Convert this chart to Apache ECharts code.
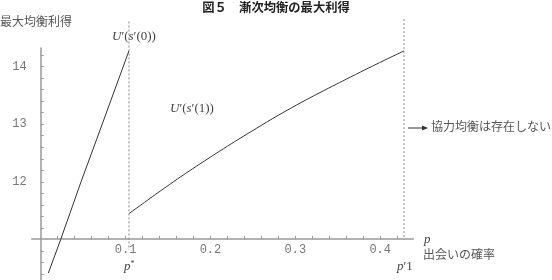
<!DOCTYPE html>
<html><head><meta charset="utf-8">
<script src="https://cdn.jsdelivr.net/npm/echarts@6/dist/echarts.min.js"></script>
<style>html,body{margin:0;padding:0;background:#fff}#c{width:552px;height:280px}</style>
</head><body><div id="c"></div>
<script>
// ---- data ----
const pCurve0 = [0.009, 0.0235, 0.0475, 0.066, 0.104];
const payoffCurve0 = [10.42, 11.0, 12.0, 12.74, 14.27];
const pCurve1 = [0.104, 0.135, 0.168, 0.2, 0.231, 0.277, 0.315, 0.352, 0.39, 0.428];
const payoffCurve1 = [11.45, 11.78, 12.12, 12.43, 12.72, 13.13, 13.44, 13.72, 14.0, 14.27];
const pStar = 0.104;
const pPrime1 = 0.428;
const pStarLineEnds = [14.78, 10.82];
const pPrime1LineEnds = [14.82, 11.0];
const xTickLabels = [0.1, 0.2, 0.3, 0.4];
const xTicks = [0.02, 0.04, 0.06, 0.08, 0.1, 0.12, 0.14, 0.16, 0.18, 0.2, 0.22, 0.24, 0.26, 0.28, 0.3, 0.32, 0.34, 0.36, 0.38, 0.4, 0.42];
const yTickLabels = [12, 13, 14];
const yTicks = [10.4, 10.6, 10.8, 11.2, 11.4, 11.6, 11.8, 12, 12.2, 12.4, 12.6, 12.8, 13, 13.2, 13.4, 13.6, 13.8, 14, 14.2];
const title = '図５　漸次均衡の最大利得';
const yName = '最大均衡利得';
const xName = '出会いの確率';
const noteText = '協力均衡は存在しない';

const chart = echarts.init(document.getElementById('c'), null, {renderer: 'canvas'});
const mono = 'Liberation Mono';
const serif = 'Liberation Serif';
const axisGrey = '#999';
const mathRich = {i: {fontStyle: 'italic', fontFamily: serif, fontSize: 13, fill: '#444'}};

chart.setOption({
  animation: false,
  grid: {left: 31.7, right: 138.7, top: 48, bottom: -3.6, containLabel: false},
  xAxis: {
    type: 'value', min: -0.0106, max: 0.4390,
    axisLine: {onZero: false, lineStyle: {color: axisGrey, width: 1.5}},
    offset: -41.1,
    splitLine: {show: false},
    axisTick: {inside: true, length: 3, customValues: xTicks, lineStyle: {color: axisGrey}},
    axisLabel: {customValues: xTickLabels, fontFamily: mono, fontSize: 12, color: '#777', margin: 5,
      formatter: v => v.toFixed(1)}
  },
  yAxis: {
    type: 'value', min: 10.3, max: 14.32,
    axisLine: {onZero: true, lineStyle: {color: axisGrey, width: 1.5}},
    splitLine: {show: false},
    axisTick: {inside: true, length: 3, customValues: yTicks, lineStyle: {color: axisGrey}},
    axisLabel: {customValues: yTickLabels, fontFamily: mono, fontSize: 12, color: '#777', margin: 5}
  },
  series: [
    {
      type: 'line', clip: false, symbol: 'none', silent: true,
      lineStyle: {color: '#888', width: 1, type: [2, 2]},
      data: [[pStar, pStarLineEnds[0]], [pStar, pStarLineEnds[1]]]
    },
    {
      type: 'line', clip: false, symbol: 'none', silent: true,
      lineStyle: {color: '#888', width: 1, type: [2, 2]},
      data: [[pPrime1, pPrime1LineEnds[0]], [pPrime1, pPrime1LineEnds[1]]]
    },
    {
      type: 'line', clip: false, symbol: 'none',
      lineStyle: {color: '#333', width: 1},
      data: pCurve0.map((p, i) => [p, payoffCurve0[i]])
    },
    {
      type: 'line', clip: false, symbol: 'none', smooth: 0.2,
      lineStyle: {color: '#333', width: 1},
      data: pCurve1.map((p, i) => [p, payoffCurve1[i]])
    }
  ],
  graphic: [
    {type: 'text', left: 'center', top: 1, style: {text: title, font: 'bold 12.3px "Noto Sans CJK JP"', fill: '#222'}},
    {type: 'text', left: 0, top: 15, style: {text: yName, font: '12px "Noto Sans CJK JP"', fill: '#555'}},
    {type: 'text', left: 112, top: 30, style: {
      text: '{i|U}′({i|s}′(0))', font: '13px "Liberation Serif"', fill: '#444', rich: mathRich}},
    {type: 'text', left: 170, top: 102, style: {
      text: '{i|U}′({i|s}′(1))', font: '13px "Liberation Serif"', fill: '#444', rich: mathRich}},
    {type: 'line', shape: {x1: 408, y1: 128, x2: 424, y2: 128}, style: {stroke: '#333', lineWidth: 1}},
    {type: 'polygon', shape: {points: [[428, 128], [422, 125.5], [422, 130.5]]}, style: {fill: '#333'}},
    {type: 'text', left: 431, top: 120, style: {text: noteText, font: '12px "Noto Sans CJK JP"', fill: '#555'}},
    {type: 'text', left: 424, top: 233, style: {text: 'p', font: 'italic 13px "Liberation Serif"', fill: '#444'}},
    {type: 'text', left: 423, top: 248, style: {text: xName, font: '12px "Noto Sans CJK JP"', fill: '#555'}},
    {type: 'text', left: 124, top: 260, style: {
      text: '{i|p}{s|*}', rich: {i: mathRich.i,
        s: {fontFamily: serif, fontSize: 8, fill: '#444', verticalAlign: 'top', padding: [0, 0, 6, 0]}}}},
    {type: 'text', left: 397, top: 260, style: {
      text: '{i|p}′1', font: '13px "Liberation Serif"', fill: '#444', rich: mathRich}}
  ]
});
</script></body></html>
